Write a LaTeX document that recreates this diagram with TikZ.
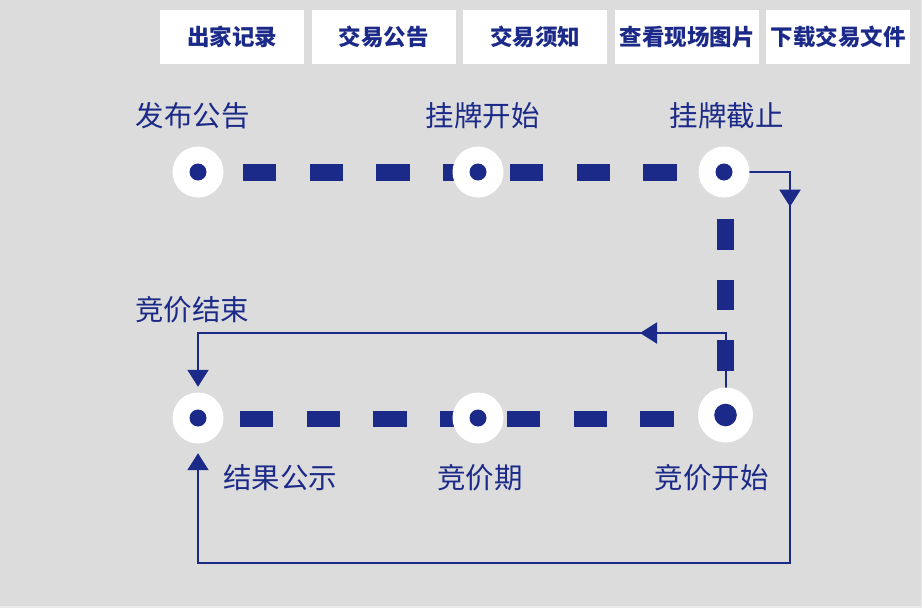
\documentclass[tikz,border=0pt]{standalone}
\usepackage{fontspec}
\newfontfamily\cjk{Noto Sans CJK SC}
\usetikzlibrary{arrows.meta}
\definecolor{navy}{RGB}{27,42,136}
\definecolor{bgray}{RGB}{220,220,220}
\definecolor{edgegray}{RGB}{234,234,234}
\pgfdeclarelayer{back}
\pgfdeclarelayer{bg}
\pgfsetlayers{back,bg,main}
\begin{document}
\begin{tikzpicture}[x=1pt,y=-1pt,
  station/.style={circle, fill=white, minimum size=51pt, inner sep=0pt,
    path picture={\fill[navy] (path picture bounding box.center) circle (8.5pt);}},
  bigstation/.style={circle, fill=white, minimum size=55pt, inner sep=0pt,
    path picture={\fill[navy] (path picture bounding box.center) circle (11.3pt);}},
  lbl/.style={text=navy, inner sep=0pt, font=\cjk\fontsize{28.5}{30}\selectfont},
  tab/.style={fill=white, minimum width=144pt, minimum height=54pt, inner sep=0pt,
    text=navy, font=\cjk\bfseries\fontsize{22.5}{24}\selectfont},
  dashline/.style={navy, line width=17pt},
  link/.style={navy, line width=2pt},
  tipd/.style={-{Triangle[width=21pt,length=17pt]}}
]
\useasboundingbox (0,0) rectangle (922,608);
\begin{pgfonlayer}{back}
  \fill[edgegray] (0,0) rectangle (922,608);
  \fill[bgray] (0,0) rectangle (920.5,606);
\end{pgfonlayer}

% tabs
\node[tab] (tab1) at (232,37.3) {出家记录};
\node[tab] (tab2) at (383.5,37.3) {交易公告};
\node[tab] (tab3) at (535,37.3) {交易须知};
\node[tab] (tab4) at (687,37.3) {查看现场图片};
\node[tab] (tab5) at (838,37.3) {下载交易文件};

% stations
\node[station] (n1) at (198,172) {};
\node[station] (n2) at (478,172) {};
\node[station] (n3) at (724,172) {};
\node[station] (n4) at (198,418) {};
\node[station] (n5) at (478,418) {};
\node[bigstation] (n6) at (725.5,415) {};

% labels
\node[lbl] (l1) at (192.5,115.5) {发布公告};
\node[lbl] (l2) at (482.5,115.5) {挂牌开始};
\node[lbl] (l3) at (726.5,115.5) {挂牌截止};
\node[lbl] (l4) at (192,310) {竞价结束};
\node[lbl] (l5) at (280,477.5) {结果公示};
\node[lbl] (l6) at (480,477.5) {竞价期};
\node[lbl] (l7) at (711.5,477.5) {竞价开始};

% helper coordinates
\coordinate (a1) at (725.5,333);
\coordinate (a2) at (198,333);
\coordinate (am) at (640,333);
\coordinate (b1) at (790,172);
\coordinate (b2) at (790,563.3);
\coordinate (b3) at (198,563.3);
\coordinate (bm) at (790,206.7);

\begin{pgfonlayer}{bg}
  % thin connectors
  \draw[link, tipd] (n6.center) -- (a1) -- (a2) -- ([yshift=5.5pt]n4.north);
  \draw[link, tipd] (a1) -- (am);
  \draw[link, tipd] (n3.center) -- (b1) -- (b2) -- (b3) -- ([yshift=-9.5pt]n4.south);
  \draw[link, tipd] (b1) -- (bm);
  % thick dashed tracks
  \draw[dashline, dash pattern=on 33.3pt off 33.4pt, dash phase=21.7pt] (n1.center) -- (n3.center);
  \draw[dashline, dash pattern=on 30.7pt off 30pt, dash phase=13.7pt] (n3.center -| n6.center) -- (n6.center);
  \draw[dashline, line width=16pt, dash pattern=on 33.3pt off 33.4pt, dash phase=24.7pt] ([yshift=-0.5pt]n4.center) -- ([yshift=-0.5pt]n4.center -| n6.center);
\end{pgfonlayer}
\end{tikzpicture}
\end{document}
